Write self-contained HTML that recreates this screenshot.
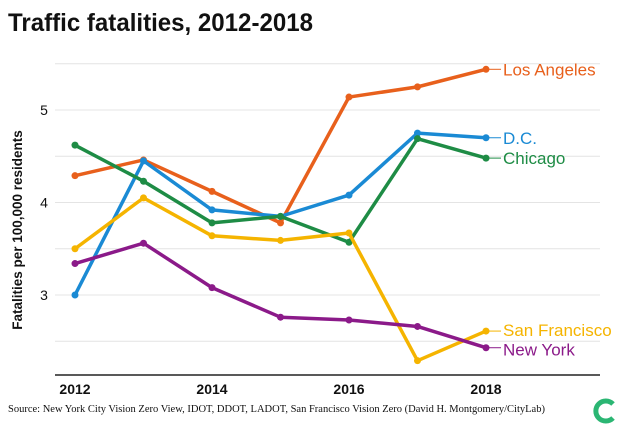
<!DOCTYPE html>
<html><head><meta charset="utf-8"><style>
body{margin:0;background:#fff;width:620px;height:428px;overflow:hidden;font-family:"Liberation Sans",sans-serif}
</style></head><body>
<svg width="620" height="428">
<text x="8" y="31" font-size="25" font-weight="bold" fill="#111" textLength="305" lengthAdjust="spacingAndGlyphs">Traffic fatalities, 2012-2018</text>
<g id="grid"></g>
<g id="yt"></g>
<g id="xt"></g>
<line x1="55" x2="600" y1="375" y2="375" stroke="#222" stroke-width="1.5"/>
<text transform="translate(22,230) rotate(-90)" text-anchor="middle" font-size="13.5" font-weight="bold" fill="#111">Fatalities per 100,000 residents</text>
<g id="series"></g>
<text x="8" y="412" font-family="Liberation Serif" font-size="10.5" fill="#111">Source: New York City Vision Zero View, IDOT, DDOT, LADOT, San Francisco Vision Zero (David H. Montgomery/CityLab)</text>
<path d="M613 404 A10 10 0 1 0 613 418" fill="none" stroke="#2bb673" stroke-width="5"/>
</svg>
<script>
const years=[2012,2013,2014,2015,2016,2017,2018];
const yTicks=[3,4,5];
const gridVals=[2.5,3,3.5,4,4.5,5,5.5];
const xTickYears=[2012,2014,2016,2018];
const seriesNames=["Los Angeles","D.C.","Chicago","San Francisco","New York"];
const laVals=[4.29,4.46,4.12,3.78,5.14,5.25,5.44];
const dcVals=[3.0,4.45,3.92,3.85,4.08,4.75,4.70];
const chicagoVals=[4.62,4.23,3.78,3.85,3.57,4.69,4.48];
const sfVals=[3.5,4.05,3.64,3.59,3.67,2.29,2.61];
const nyVals=[3.34,3.56,3.08,2.76,2.73,2.66,2.43];
const colors=["#e8601c","#1a8ad4","#1e8c45","#f5b400","#8b1a89"];
const labelDy=[0,0,0,-1,2];
const NS="http://www.w3.org/2000/svg";
const xs=y=>75+(y-2012)*68.5;
const ys=v=>110-(v-5)*92.5;
function mk(p,t,a){const e=document.createElementNS(NS,t);for(const k in a)e.setAttribute(k,a[k]);p.appendChild(e);return e;}
const grid=document.getElementById('grid');
gridVals.forEach(v=>{const l=mk(grid,'line',{x1:55,x2:600,y1:ys(v),y2:ys(v),stroke:'#e4e4e4','stroke-width':1});

});
const yt=document.getElementById('yt');
yTicks.forEach(v=>{const t=mk(yt,'text',{x:44,y:ys(v)+5,'font-size':14,fill:'#111','text-anchor':'middle'});t.textContent=v;

});
const xt=document.getElementById('xt');
xTickYears.forEach(y=>{const t=mk(xt,'text',{x:xs(y),y:394,'font-size':14,'font-weight':'bold',fill:'#111','text-anchor':'middle'});t.textContent=y;

});
const sg=document.getElementById('series');
const all=[laVals,dcVals,chicagoVals,sfVals,nyVals];
all.forEach((vals,i)=>{
const g=mk(sg,'g',{});


const pts=vals.map((v,j)=>xs(years[j])+','+ys(v)).join(' ');
const pl=mk(g,'polyline',{points:pts,fill:'none',stroke:colors[i],'stroke-width':3.5,'stroke-linejoin':'round'});


vals.forEach((v,j)=>{const c=mk(g,'circle',{cx:xs(years[j]),cy:ys(v),r:3.5,fill:colors[i]});

});
const lx=xs(years[years.length-1]), ly=ys(vals[vals.length-1]);
const ln=mk(g,'line',{x1:lx,x2:lx+15,y1:ly,y2:ly,stroke:colors[i],'stroke-width':1});


const t=mk(g,'text',{x:lx+17,y:ly+6+labelDy[i],'font-size':17,fill:colors[i]});t.textContent=seriesNames[i];


});
</script>
</body></html>
